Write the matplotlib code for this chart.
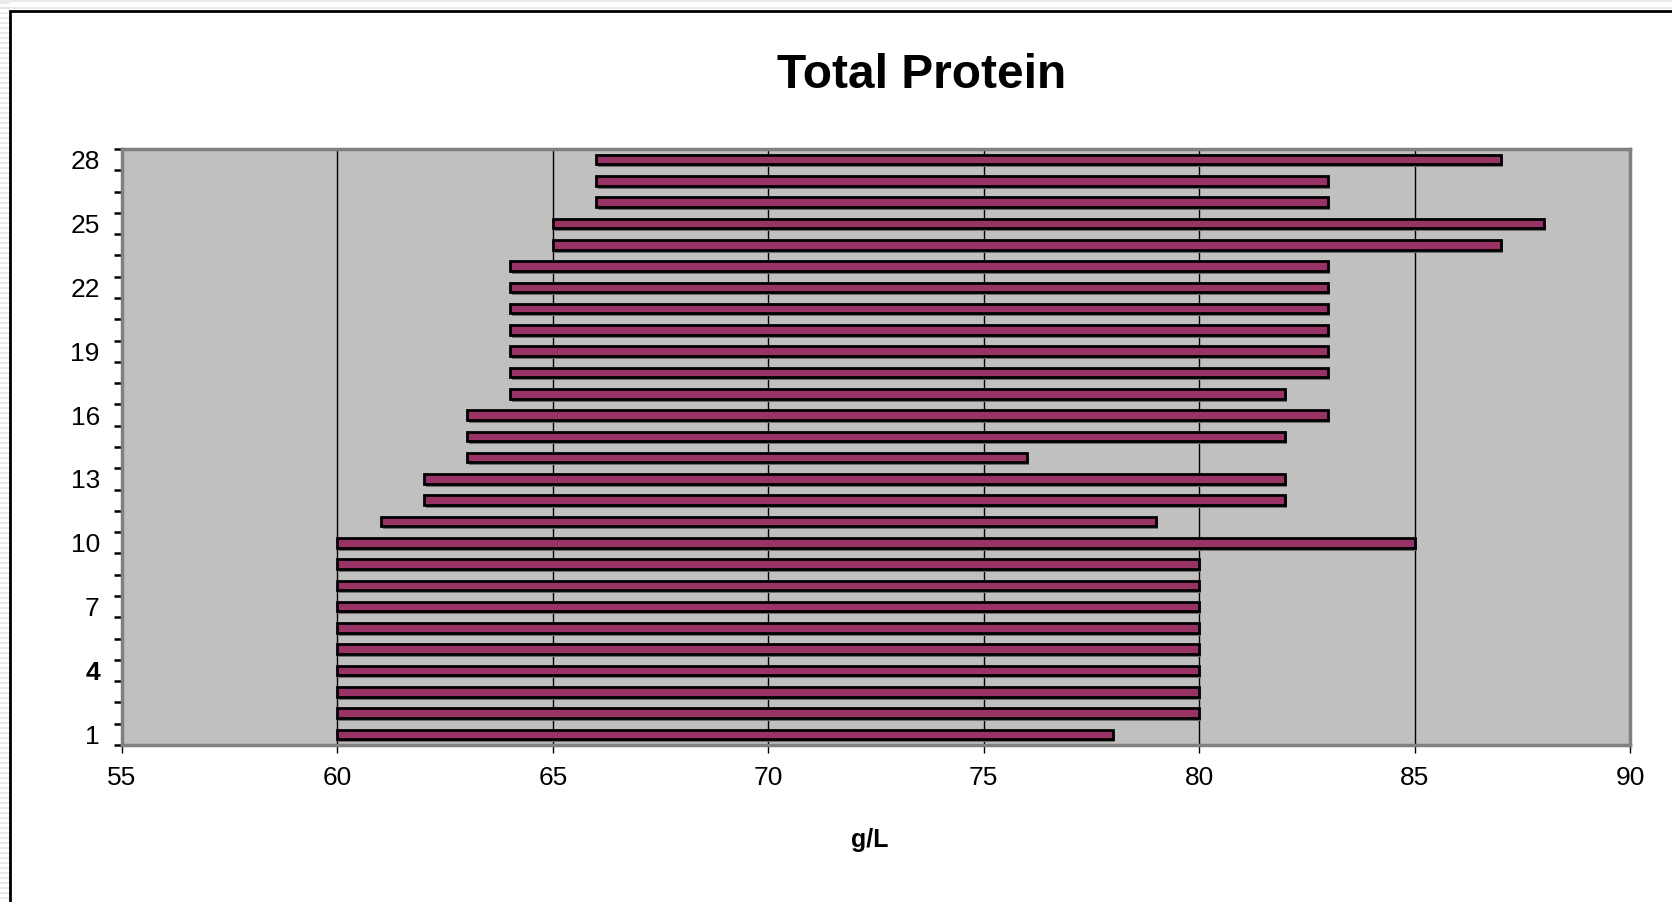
import numpy as np
import matplotlib
matplotlib.use("Agg")
import matplotlib.pyplot as plt
import matplotlib.transforms as mtransforms
from matplotlib.patches import Rectangle
from matplotlib.lines import Line2D

# data: reference interval (low, high) per sample
samples = list(range(1, 29))
low = [60, 60, 60, 60, 60, 60, 60, 60, 60, 60,
       61, 62, 62, 63, 63, 63, 64, 64, 64, 64,
       64, 64, 64, 65, 65, 66, 66, 66]
high = [78, 80, 80, 80, 80, 80, 80, 80, 80, 85,
        79, 82, 82, 76, 82, 83, 82, 83, 83, 83,
        83, 83, 83, 87, 88, 83, 83, 87]
x_ticks = [55, 60, 65, 70, 75, 80, 85, 90]
y_labels = [1, 4, 7, 10, 13, 16, 19, 22, 25, 28]

plt.rcParams["font.family"] = ["Liberation Sans", "DejaVu Sans"]

W, H = 1672, 902
fig = plt.figure(figsize=(W / 100, H / 100), dpi=100)
fig.patch.set_facecolor("white")

# striped border outside the chart frame (drawn behind the axes)
for yy in range(3, H, 5):
    fig.add_artist(Line2D([0, 9 / W], [1 - yy / H, 1 - yy / H], transform=fig.transFigure,
                          color="#e6e6e6", lw=1.2, zorder=-10))
for yy in (1, 8):
    fig.add_artist(Line2D([0, 1], [1 - yy / H, 1 - yy / H], transform=fig.transFigure,
                          color="#e6e6e6", lw=1.2, zorder=-10))
fig.add_artist(Rectangle((10 / W, -0.1), 1.2, 1 - 11 / H + 0.1, transform=fig.transFigure,
                         facecolor="white", edgecolor="black", lw=2, zorder=-5))

ax = fig.add_axes([122 / W, 1 - 745 / H, (1630 - 122) / W, (745 - 149) / H])
ax.set_facecolor("#c0c0c0")

widths = np.array(high) - np.array(low)
shadow = ax.transData + mtransforms.ScaledTranslation(2 / 100, -3 / 100, fig.dpi_scale_trans)
ax.barh(samples, widths, left=low, height=0.45, color="#6e6e6e", linewidth=0,
        transform=shadow, zorder=2)
ax.barh(samples, widths, left=low, height=0.45, color="#993366", edgecolor="black",
        linewidth=2, zorder=3)

ax.set_xlim(55, 90)
ax.set_ylim(0.5, 28.5)
ax.set_xticks(x_ticks)
ax.set_xticklabels([str(v) for v in x_ticks], fontsize=19)
ax.xaxis.grid(True, color="black", lw=1)
ax.set_axisbelow(True)
ax.tick_params(axis="x", direction="out", length=6, width=1, color="black", pad=9)

ax.set_yticks(y_labels)
ylab = ax.set_yticklabels([str(v) for v in y_labels], fontsize=19)
ylab[1].set_fontweight("bold")
ax.set_yticks(np.arange(0.5, 29, 1), minor=True)
ax.tick_params(axis="y", which="major", length=0, pad=16)
ax.tick_params(axis="y", which="minor", direction="out", length=6, width=1.8, color="black")

for s in ax.spines.values():
    s.set_color("#808080")
    s.set_linewidth(2.5)

fig.text(922 / W, 1 - 88 / H, "Total Protein", ha="center", va="baseline",
         fontsize=34.5, fontweight="bold")
fig.text(870 / W, 1 - 840 / H, "g/L", ha="center", va="center",
         fontsize=18, fontweight="bold")

fig.savefig("out.png", dpi=100)
